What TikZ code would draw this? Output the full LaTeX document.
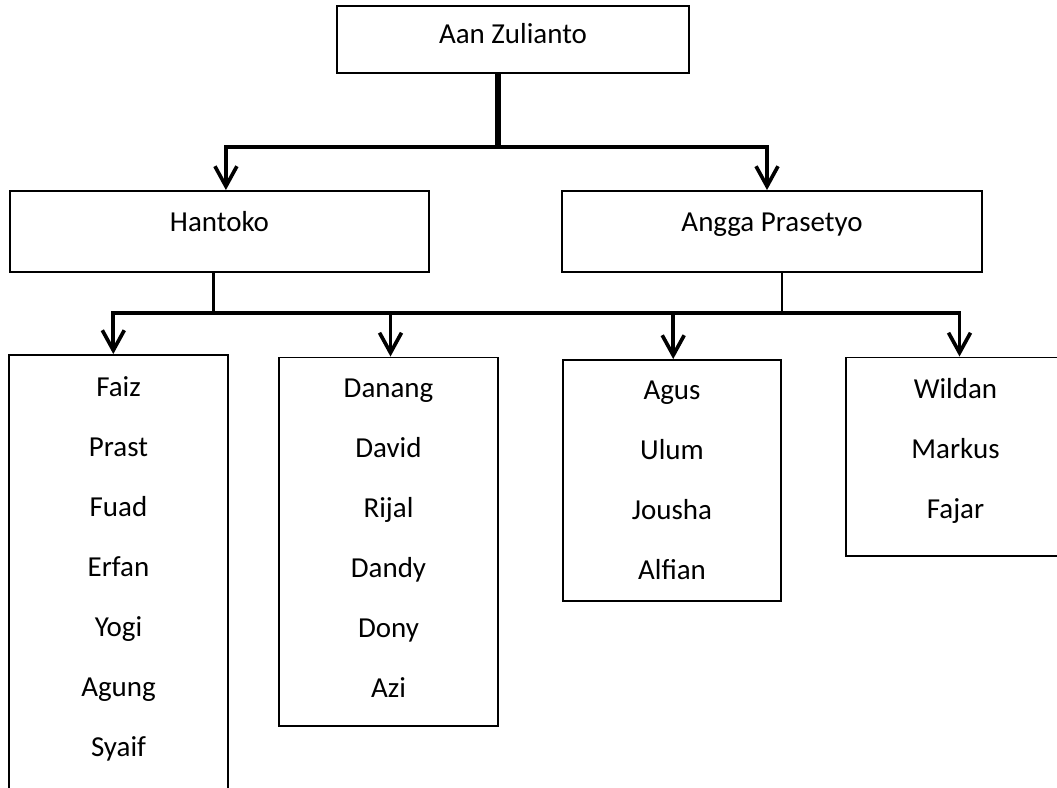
\documentclass[tikz,border=0pt]{standalone}
\usepackage{fontspec}
\setmainfont{Carlito}
\usetikzlibrary{arrows.meta, positioning}
\tikzstyle{boss} = [rectangle, minimum width=8.8cm, minimum height=1.675cm, text height=0.7em, text depth=0.17em, draw=black, line width=1.4pt, font=\fontsize{20.6}{24}\selectfont]
\tikzstyle{leader} = [rectangle, minimum width=10.49cm, minimum height=2.025cm, text height=0.7em, text depth=0.68em, draw=black, line width=1.4pt, font=\fontsize{20.6}{24}\selectfont]
\tikzstyle{team} = [rectangle, minimum width=5.47cm, draw=black, line width=1.4pt]
\tikzstyle{names} = [align=center, inner sep=0pt, font=\fontsize{20.6}{42.68}\selectfont]
\tikzstyle{arrow} = [line width=2.6pt, -{Straight Barb[length=5mm, width=5.5mm]}]
\tikzstyle{link} = [line width=2pt]
\tikzstyle{trunk} = [line width=4.5pt]

\begin{document}
\begin{tikzpicture}[node distance=4.8cm]
\useasboundingbox (0,0) rectangle (26.425,-19.675);
\node (aan) [boss] at (12.825,-0.9875) {Aan Zulianto};
\node (hantoko) [leader, below of=aan, xshift=-7.3375cm] {Hantoko};
\node (angga) [leader, right of=hantoko, xshift=9.0125cm] {Angga Prasetyo};

\node (team1) [team, minimum height=11.875cm, below of=hantoko, xshift=-2.525cm, yshift=-4.225cm] {};
\node (team2) [team, minimum height=9.2125cm, right of=team1, xshift=1.95cm, yshift=1.26875cm] {};
\node (team3) [team, minimum height=6.025cm, right of=team2, xshift=2.2875cm, yshift=1.53125cm] {};
\node (team4) [team, minimum height=4.9625cm, right of=team3, xshift=2.2875cm, yshift=0.59375cm] {};

\node (names1) [names, below=5.5mm of team1.north] {Faiz\\Prast\\Fuad\\Erfan\\Yogi\\Agung\\Syaif};
\node (names2) [names, below=5.5mm of team2.north] {Danang\\David\\Rijal\\Dandy\\Dony\\Azi};
\node (names3) [names, below=5.5mm of team3.north] {Agus\\Ulum\\Jousha\\Alfian};
\node (names4) [names, below=5.5mm of team4.north] {Wildan\\Markus\\Fajar};

\coordinate (split) at (0,-3.675);
\coordinate (busline) at (0,-7.825);

\draw [trunk] ([xshift=-3.75mm]aan.south) -- ([xshift=-3.75mm]aan.south |- split);
\draw [arrow] ([xshift=-3.75mm]aan.south |- split) -| ([xshift=1.6mm]hantoko.north);
\draw [arrow] ([xshift=-3.75mm]aan.south |- split) -| ([xshift=-1.25mm]angga.north);
\draw [link] ([xshift=-1.4mm]hantoko.south) -- ([xshift=-1.4mm]hantoko.south |- busline);
\draw [link] ([xshift=2.5mm]angga.south) -- ([xshift=2.5mm]angga.south |- busline);
\draw [arrow] ([xshift=-1.4mm]hantoko.south |- busline) -| ([xshift=-1.3mm]team1.north);
\draw [arrow] ([xshift=-1.4mm]hantoko.south |- busline) -| ([xshift=1mm]team4.north);
\draw [arrow] ([xshift=0.5mm]team2.north |- busline) -- ([xshift=0.5mm]team2.north);
\draw [arrow] ([xshift=0.3mm]team3.north |- busline) -- ([xshift=0.3mm]team3.north);

\end{tikzpicture}
\end{document}
